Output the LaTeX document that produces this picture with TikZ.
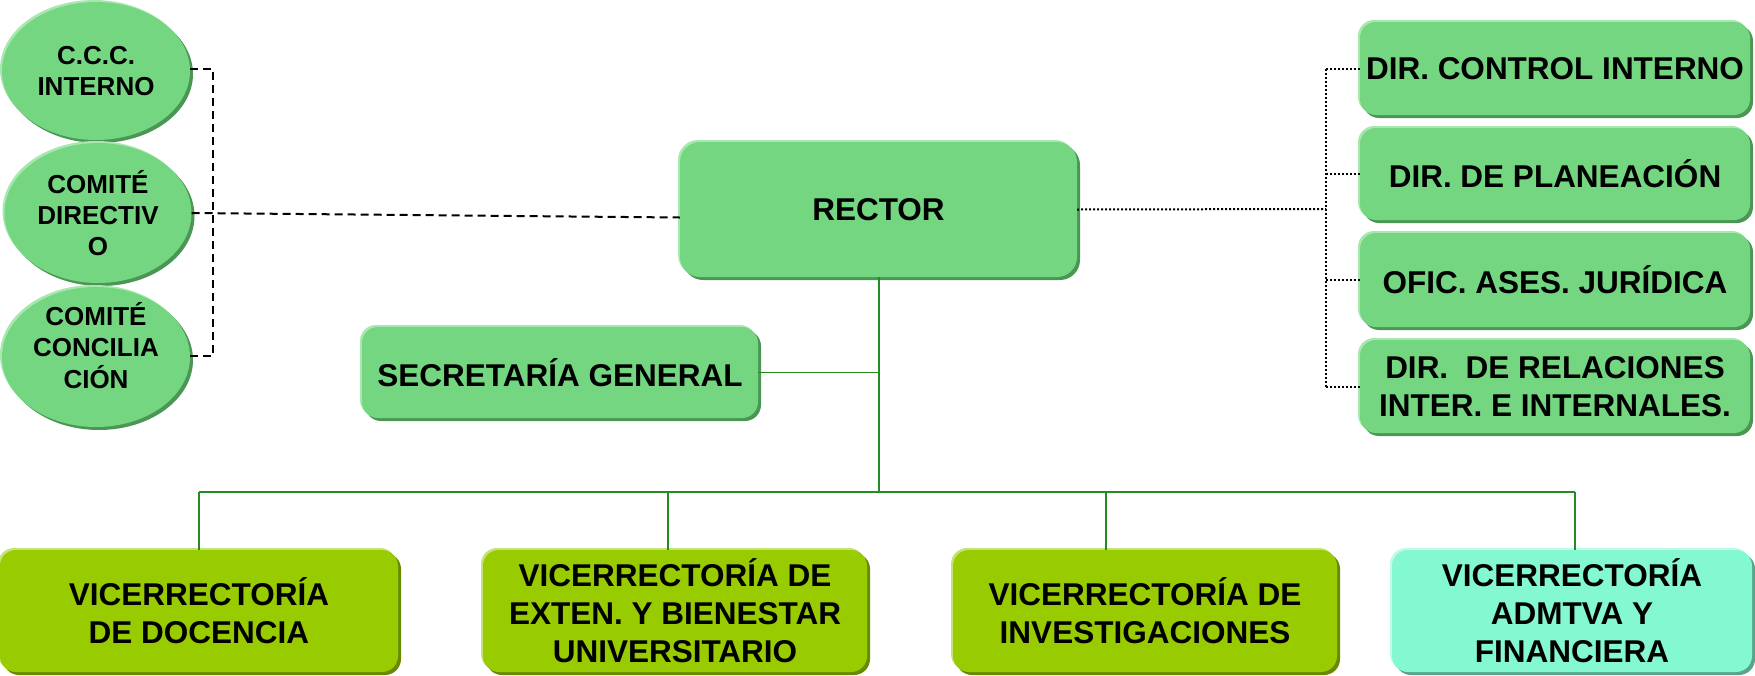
\documentclass[tikz,border=0pt]{standalone}
\usepackage{fontspec}
\setmainfont{Liberation Sans}
\usetikzlibrary{shapes.geometric,shadows}
\definecolor{gfill}{RGB}{116,214,128}
\definecolor{glight}{RGB}{168,232,176}
\definecolor{gdark}{RGB}{74,150,84}
\definecolor{lfill}{RGB}{153,204,0}
\definecolor{llight}{RGB}{196,226,120}
\definecolor{ldark}{RGB}{104,138,0}
\definecolor{afill}{RGB}{132,249,209}
\definecolor{alight}{RGB}{190,252,232}
\definecolor{adark}{RGB}{88,165,138}
\definecolor{lineg}{RGB}{34,140,34}
\begin{document}
\begin{tikzpicture}[x=1pt,y=-1pt,
  txt/.style={inner sep=0pt, align=center, text=black,
    font=\bfseries\fontsize{31.5}{38}\selectfont},
  ell/.style={ellipse, inner sep=0pt, align=center, text=black,
    font=\bfseries\fontsize{26}{31}\selectfont},
  shadeg/.style={fill=gfill,
    general shadow={fill=glight, shadow xshift=-2pt, shadow yshift=2pt},
    general shadow={fill=gdark, shadow xshift=3pt, shadow yshift=-3pt}},
  shadel/.style={fill=lfill,
    general shadow={fill=llight, shadow xshift=-2pt, shadow yshift=2pt},
    general shadow={fill=ldark, shadow xshift=3pt, shadow yshift=-3pt}},
  shadea/.style={fill=afill,
    general shadow={fill=alight, shadow xshift=-2pt, shadow yshift=2pt},
    general shadow={fill=adark, shadow xshift=3pt, shadow yshift=-3pt}},
  rbox/.style={txt, rounded corners=16pt},
  dashline/.style={draw=black, line width=2pt, dash pattern=on 8pt off 5pt},
  dotline/.style={draw=black, line width=2pt, dash pattern=on 2pt off 2pt},
  gline/.style={draw=lineg, line width=1.6pt}
]
\useasboundingbox (0,0) rectangle (1755,675);

% committees
\node[ell, shadeg, minimum width=188pt, minimum height=138pt] (e1) at (96,71) {C.C.C.\\INTERNO};
\node[ell, shadeg, minimum width=187pt, minimum height=140pt] (e2) at (98,213) {COMITÉ\\DIRECTIV\\O};
\node[ell, shadeg, minimum width=188pt, minimum height=140pt] (e3) at (96,357)
  {\raisebox{7pt}[\height][\depth]{\begin{tabular}{@{}c@{}}COMITÉ\\CONCILIA\\CIÓN\end{tabular}}};

% rector and secretary
\node[rbox, shadeg, rounded corners=20pt, minimum width=397pt, minimum height=135pt] (rector) at (878.5,209.5) {RECTOR};
\node[rbox, shadeg, minimum width=396pt, minimum height=91pt] (sec) at (560,372.5) {SECRETARÍA GENERAL};

% staff offices
\node[rbox, shadeg, minimum width=390pt, minimum height=93pt] (d1) at (1555,68.5) {DIR. CONTROL INTERNO};
\node[rbox, shadeg, minimum width=390pt, minimum height=92pt] (d2) at (1555,174) {DIR. DE PLANEACIÓN};
\node[rbox, shadeg, minimum width=390pt, minimum height=94pt] (d3) at (1555,280) {OFIC. ASES. JURÍDICA};
\node[rbox, shadeg, minimum width=390pt, minimum height=93pt] (d4) at (1555,386.5) {DIR.\ \ DE RELACIONES\\INTER. E INTERNALES.};

% vice-rectorates
\node[rbox, shadel, minimum width=398pt, minimum height=122pt] (v1) at (199,611) {VICERRECTORÍA\\DE DOCENCIA};
\node[rbox, shadel, minimum width=384pt, minimum height=122pt] (v2) at (675,611) {VICERRECTORÍA DE\\EXTEN. Y BIENESTAR\\UNIVERSITARIO};
\node[rbox, shadel, minimum width=384pt, minimum height=122pt] (v3) at (1145,611) {VICERRECTORÍA DE\\INVESTIGACIONES};
\node[rbox, shadea, minimum width=360pt, minimum height=122pt] (v4) at (1572,611) {VICERRECTORÍA\\ADMTVA Y\\FINANCIERA};

% dashed links to committees
\coordinate (jt) at (213,69);
\coordinate (jb) at (213,356);
\draw[dashline] (e1.east |- jt) -- (jt) -- (jb) -- (e3.east |- jb);
\draw[dashline] (e2.east) -- ([yshift=-8pt]rector.west);

% dotted links to staff offices
\coordinate (sx) at (1326,209);
\draw[dotline] (rector.east) -- (sx);
\draw[dotline] (sx |- d1.west) -- (sx |- d4.west);
\draw[dotline] (sx |- d1.west) -- (d1.west);
\draw[dotline] (sx |- d2.west) -- (d2.west);
\draw[dotline] (sx |- d3.west) -- (d3.west);
\draw[dotline] (sx |- d4.west) -- (d4.west);

% solid tree
\coordinate (bus) at (879,492);
\coordinate (b1) at (199,492);
\coordinate (b2) at (668,492);
\coordinate (b3) at (1106,492);
\coordinate (b4) at (1575,492);
\draw[gline] (rector.south -| bus) -- (bus);
\draw[gline] (sec.east) -- (sec.east -| bus);
\draw[gline] (b1) -- (b4);
\draw[gline] (b1) -- (b1 |- v1.north);
\draw[gline] (b2) -- (b2 |- v2.north);
\draw[gline] (b3) -- (b3 |- v3.north);
\draw[gline] (b4) -- (b4 |- v4.north);
\end{tikzpicture}
\end{document}
